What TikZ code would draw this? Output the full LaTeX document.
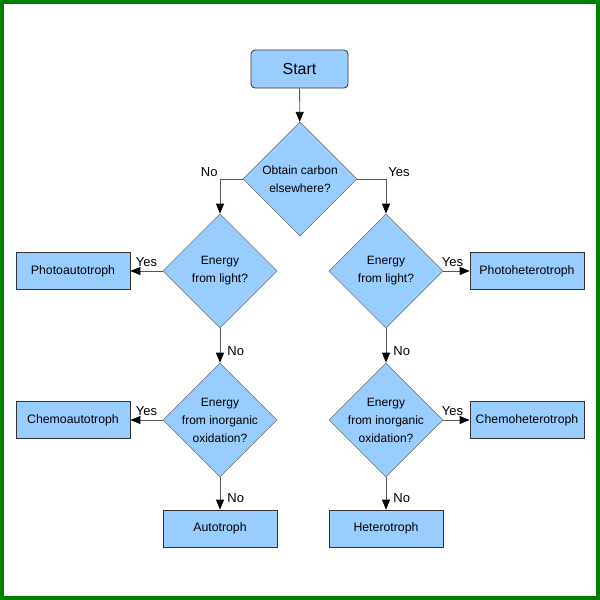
\documentclass[tikz,border=0pt]{standalone}
\usepackage{fontspec}
\setmainfont{Liberation Sans}
\usepackage{tikz}
\usetikzlibrary{positioning,arrows.meta,shapes.geometric}
\definecolor{boxblue}{HTML}{99CCFF}
\definecolor{framegreen}{HTML}{008000}
\tikzset{
startbox/.style={
draw=black!80,
line width=0.8pt,
rounded corners=4pt,
minimum width=97pt,
minimum height=38pt,
fill=boxblue,
font=\fontsize{16}{18}\selectfont
},
result/.style={
draw=black!80,
line width=0.8pt,
minimum width=114pt,
minimum height=37pt,
fill=boxblue,
font=\fontsize{12.3}{14}\selectfont
},
decision/.style={
draw=black!50,
line width=0.7pt,
diamond,
aspect=1,
minimum width=114pt,
minimum height=114pt,
inner sep=-10pt,
align=center,
fill=boxblue,
font=\fontsize{12}{18}\selectfont
},
lbl/.style={
inner sep=4pt,
font=\fontsize{13}{15}\selectfont
},
arrow/.style={
-{Triangle[length=10pt,width=8pt,color=black]},
line width=0.8pt,
draw=black!65
},
frame/.style={
draw=framegreen,
line width=4pt
}
}
\begin{document}
\begin{tikzpicture}[x=1pt,y=-1pt]
\useasboundingbox (0,0) rectangle (600,600);
\draw[frame] (2,2) rectangle (598,598);

\node[startbox](start) at (299.5,69){Start};
\node[decision](carbon) at (300,179){Obtain carbon\\elsewhere?};
\node[decision](lightL) at (220,271){Energy\\from light?};
\node[decision](lightR) at (386,271){Energy\\from light?};
\node[decision](oxL) at (220,420){Energy\\from inorganic\\oxidation?};
\node[decision](oxR) at (386,420){Energy\\from inorganic\\oxidation?};
\node[result](photoA) at (73,271){Photoautotroph};
\node[result](photoH) at (527,271){Photoheterotroph};
\node[result](chemoA) at (73,420){Chemoautotroph};
\node[result](chemoH) at (527,420){Chemoheterotroph};
\node[result](auto) at (220,528.5){Autotroph};
\node[result](hetero) at (386,528.5){Heterotroph};

\draw[arrow](start)--(carbon);
\draw[arrow](carbon.west)-|node[lbl,above left,inner sep=2pt]{No}(lightL.north);
\draw[arrow](carbon.east)-|node[lbl,above right,inner sep=2pt]{Yes}(lightR.north);
\foreach \x/\y in {lightL/photoA,oxL/chemoA}
\draw[arrow](\x.west)--node[lbl,above]{Yes}(\y.east);
\foreach \x/\y in {lightR/photoH,oxR/chemoH}
\draw[arrow](\x.east)--node[lbl,above,xshift=-4pt]{Yes}(\y.west);
\foreach \x/\y in {lightL/oxL,lightR/oxR,oxL/auto,oxR/hetero}
\draw[arrow](\x.south)--node[lbl,right,pos=0.65,xshift=3pt]{No}(\y);
\end{tikzpicture}
\end{document}
